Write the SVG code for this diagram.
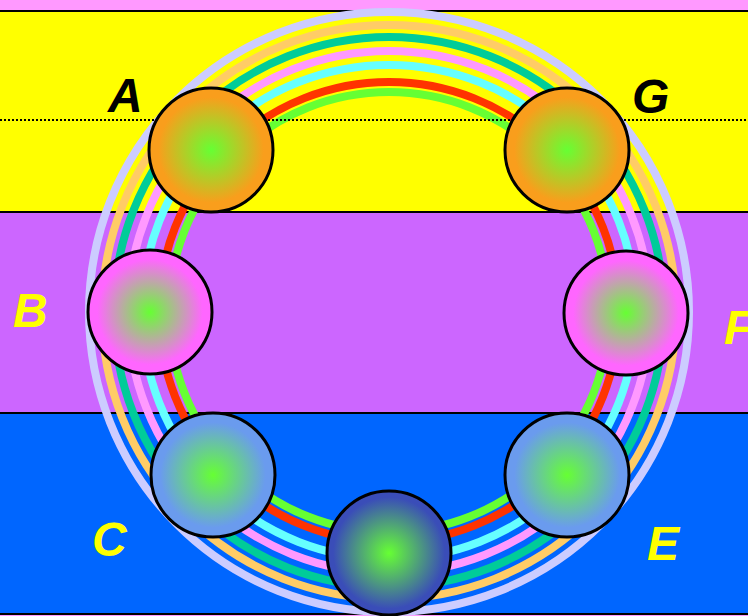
<svg xmlns="http://www.w3.org/2000/svg" width="748" height="616" viewBox="0 0 748 616">
<style>
.band{stroke:#000;stroke-width:2}
.ring{fill:none;stroke-width:8}
.node{stroke:#000;stroke-width:3}
.lbl{font-family:"Liberation Sans",Arial,sans-serif;font-size:48px;font-weight:bold;font-style:italic}
</style>
<defs>
<radialGradient id="gOrange"><stop offset="0" stop-color="#66FF33"/><stop offset="0.85" stop-color="#F99E1C"/></radialGradient>
<radialGradient id="gPink"><stop offset="0" stop-color="#66FF33"/><stop offset="0.85" stop-color="#FF66FF"/></radialGradient>
<radialGradient id="gLight"><stop offset="0" stop-color="#66FF33"/><stop offset="0.85" stop-color="#6A9BEE"/></radialGradient>
<radialGradient id="gDark"><stop offset="0" stop-color="#66FF33"/><stop offset="0.9" stop-color="#3A4DB8"/></radialGradient>
</defs>
<rect x="0" y="0" width="748" height="616" fill="#FF99FF"/>
<rect class="band" x="-2" y="11" width="752" height="201" fill="#FFFF00"/>
<rect class="band" x="-2" y="212" width="752" height="201" fill="#CC66FF"/>
<rect class="band" x="-2" y="413" width="752" height="201" fill="#0066FF"/>
<g id="connectors">
<circle class="ring" cx="389" cy="312" r="300" stroke="#CCCCFF"/>
<circle class="ring" cx="389" cy="312" r="287" stroke="#FFCC66"/>
<circle class="ring" cx="389" cy="312" r="275" stroke="#00CC99"/>
<circle class="ring" cx="389" cy="312" r="261" stroke="#FF99FF"/>
<circle class="ring" cx="389" cy="312" r="247" stroke="#66FFFF"/>
<circle class="ring" cx="389" cy="312" r="230" stroke="#FF3300"/>
<circle class="ring" cx="389" cy="312" r="220" stroke="#66FF33"/>
<line x1="0" y1="120" x2="748" y2="120" stroke="#000" stroke-width="2" stroke-dasharray="2 2"/>
</g>
<g id="A"><circle class="node" cx="211" cy="150" r="62" fill="url(#gOrange)"/><text class="lbl" x="108" y="112" fill="#000">A</text></g>
<g id="G"><circle class="node" cx="567" cy="150" r="62" fill="url(#gOrange)"/><text class="lbl" x="632" y="113" fill="#000">G</text></g>
<g id="B"><circle class="node" cx="150" cy="312" r="62" fill="url(#gPink)"/><text class="lbl" x="13" y="327" fill="#FFFF00">B</text></g>
<g id="F"><circle class="node" cx="626" cy="313" r="62" fill="url(#gPink)"/><text class="lbl" x="724" y="344" fill="#FFFF00">F</text></g>
<g id="C"><circle class="node" cx="213" cy="475" r="62" fill="url(#gLight)"/><text class="lbl" x="92" y="556" fill="#FFFF00">C</text></g>
<g id="E"><circle class="node" cx="567" cy="475" r="62" fill="url(#gLight)"/><text class="lbl" x="647" y="560" fill="#FFFF00">E</text></g>
<g id="D"><circle class="node" cx="389" cy="553" r="62" fill="url(#gDark)"/></g>
</svg>
